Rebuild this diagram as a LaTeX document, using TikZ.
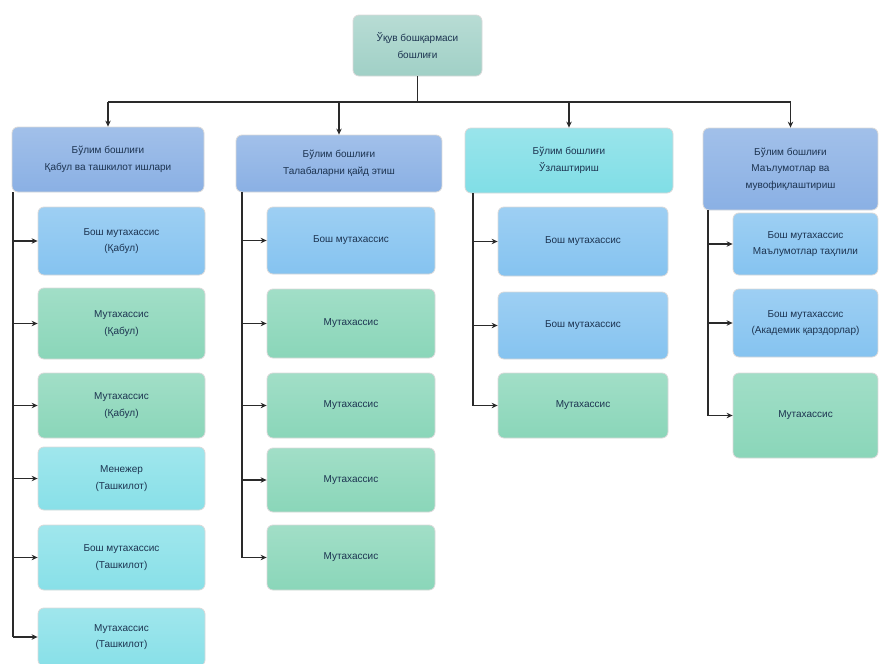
\documentclass[tikz,border=0pt]{standalone}
\usepackage{fontspec}
\setmainfont{Liberation Sans}
\usetikzlibrary{arrows.meta}
\definecolor{topcol}{HTML}{A0D0C6}
\definecolor{headcol}{HTML}{8AB0E4}
\definecolor{headcyan}{HTML}{80DEE6}
\definecolor{bluecol}{HTML}{85C3F0}
\definecolor{greencol}{HTML}{8AD6B9}
\definecolor{cyancol}{HTML}{88E0E8}
\definecolor{txtcol}{HTML}{1C3350}
\definecolor{linecol}{HTML}{2A2A2A}

\begin{document}
\begin{tikzpicture}[x=1pt,y=-1pt,>={Stealth[length=6pt,width=5.5pt]},
  box/.style={rectangle,rounded corners=6pt,draw=black!15,line width=0.8pt,
    text=txtcol,align=center,inner sep=2pt,font=\fontsize{10}{16.5}\selectfont},
  topbox/.style={box,top color=topcol!75!white,bottom color=topcol},
  headbox/.style={box,top color=headcol!80!white,bottom color=headcol},
  headcybox/.style={box,top color=headcyan!80!white,bottom color=headcyan},
  bluebox/.style={box,top color=bluecol!80!white,bottom color=bluecol},
  greenbox/.style={box,top color=greencol!80!white,bottom color=greencol},
  cyanbox/.style={box,top color=cyancol!80!white,bottom color=cyancol},
  link/.style={linecol,line width=1.5pt}]
\useasboundingbox (0,0) rectangle (879,664);

% head of the office
\node[topbox,minimum width=129,minimum height=61] (top) at (417.5,45.5) {Ўқув бошқармаси\\бошлиғи};

% department heads
\node[headbox,minimum width=192,minimum height=65] (h1) at (108,159.5) {Бўлим бошлиғи\\Қабул ва ташкилот ишлари};
\node[headbox,minimum width=206,minimum height=57] (h2) at (339,163.5) {Бўлим бошлиғи\\Талабаларни қайд этиш};
\node[headcybox,minimum width=208,minimum height=65] (h3) at (569,160.5) {Бўлим бошлиғи\\Ўзлаштириш};
\node[headbox,minimum width=175,minimum height=82] (h4) at (790.5,169) {Бўлим бошлиғи\\Маълумотлар ва\\мувофиқлаштириш};

% column 1
\node[bluebox,minimum width=167,minimum height=68] (b11) at (121.5,241) {Бош мутахассис\\(Қабул)};
\node[greenbox,minimum width=167,minimum height=71] (b12) at (121.5,323.5) {Мутахассис\\(Қабул)};
\node[greenbox,minimum width=167,minimum height=65] (b13) at (121.5,405.5) {Мутахассис\\(Қабул)};
\node[cyanbox,minimum width=167,minimum height=63] (b14) at (121.5,478.5) {Менежер\\(Ташкилот)};
\node[cyanbox,minimum width=167,minimum height=65] (b15) at (121.5,557.5) {Бош мутахассис\\(Ташкилот)};
\node[cyanbox,minimum width=167,minimum height=58] (b16) at (121.5,637) {Мутахассис\\(Ташкилот)};

% column 2
\node[bluebox,minimum width=168,minimum height=67] (b21) at (351,240.5) {Бош мутахассис};
\node[greenbox,minimum width=168,minimum height=69] (b22) at (351,323.5) {Мутахассис};
\node[greenbox,minimum width=168,minimum height=65] (b23) at (351,405.5) {Мутахассис};
\node[greenbox,minimum width=168,minimum height=64] (b24) at (351,480) {Мутахассис};
\node[greenbox,minimum width=168,minimum height=65] (b25) at (351,557.5) {Мутахассис};

% column 3
\node[bluebox,minimum width=170,minimum height=69] (b31) at (583,241.5) {Бош мутахассис};
\node[bluebox,minimum width=170,minimum height=67] (b32) at (583,325.5) {Бош мутахассис};
\node[greenbox,minimum width=170,minimum height=65] (b33) at (583,405.5) {Мутахассис};

% column 4
\node[bluebox,minimum width=145,minimum height=62] (b41) at (805.5,244) {Бош мутахассис\\Маълумотлар таҳлили};
\node[bluebox,minimum width=145,minimum height=68] (b42) at (805.5,323) {Бош мутахассис\\(Академик қарздорлар)};
\node[greenbox,minimum width=145,minimum height=85] (b43) at (805.5,415.5) {Мутахассис};

% bus to the department heads
\coordinate (bus) at (417.5,102);
\draw[link] (top.south) -- (bus);
\draw[link] (h1.north |- bus) -- (h4.north |- bus);
\foreach \h in {h1,h2,h3,h4}
  \draw[link,->] (\h.north |- bus) -- (\h.north);

% column lines
\coordinate (s1) at (13,0);
\coordinate (s2) at (242,0);
\coordinate (s3) at (473,0);
\coordinate (s4) at (708,0);
\draw[link] (h1.south -| s1) -- (b16.west -| s1);
\draw[link] (h2.south -| s2) -- (b25.west -| s2);
\draw[link] (h3.south -| s3) -- (b33.west -| s3);
\draw[link] (h4.south -| s4) -- (b43.west -| s4);
\foreach \b in {b11,b12,b13,b14,b15,b16}
  \draw[link,->] (\b.west -| s1) -- (\b.west);
\foreach \b in {b21,b22,b23,b24,b25}
  \draw[link,->] (\b.west -| s2) -- (\b.west);
\foreach \b in {b31,b32,b33}
  \draw[link,->] (\b.west -| s3) -- (\b.west);
\foreach \b in {b41,b42,b43}
  \draw[link,->] (\b.west -| s4) -- (\b.west);
\end{tikzpicture}
\end{document}
